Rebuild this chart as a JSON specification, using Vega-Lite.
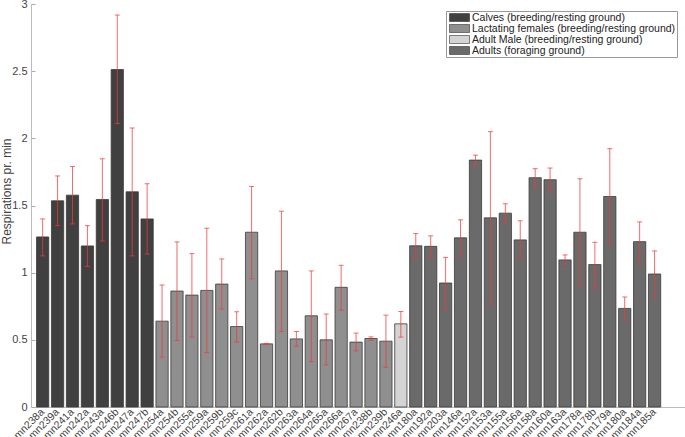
{
  "$schema": "https://vega.github.io/schema/vega-lite/v6.json",
  "width": 654,
  "height": 403,
  "autosize": {"type": "none"},
  "padding": {"left": 31, "top": 4, "right": 0, "bottom": 30},
  "background": "white",
  "config": {
    "view": {"stroke": null},
    "font": "Liberation Sans",
    "axis": {"labelFont": "Liberation Sans", "titleFont": "Liberation Sans", "labelColor": "#444", "titleColor": "#444", "domainColor": "#aaa", "tickColor": "#aaa", "grid": false}
  },
  "data": {"values": [
    {"key": "mn238a", "group": "Calves (breeding/resting ground)", "v": 1.266, "lo": 1.125, "hi": 1.40},
    {"key": "mn239a", "group": "Calves (breeding/resting ground)", "v": 1.535, "lo": 1.35, "hi": 1.72},
    {"key": "mn241a", "group": "Calves (breeding/resting ground)", "v": 1.577, "lo": 1.363, "hi": 1.79},
    {"key": "mn242a", "group": "Calves (breeding/resting ground)", "v": 1.199, "lo": 1.047, "hi": 1.35},
    {"key": "mn243a", "group": "Calves (breeding/resting ground)", "v": 1.545, "lo": 1.236, "hi": 1.848},
    {"key": "mn246b", "group": "Calves (breeding/resting ground)", "v": 2.512, "lo": 2.11, "hi": 2.918},
    {"key": "mn247a", "group": "Calves (breeding/resting ground)", "v": 1.602, "lo": 1.125, "hi": 2.077},
    {"key": "mn247b", "group": "Calves (breeding/resting ground)", "v": 1.40, "lo": 1.139, "hi": 1.662},
    {"key": "mn254a", "group": "Lactating females (breeding/resting ground)", "v": 0.639, "lo": 0.371, "hi": 0.908},
    {"key": "mn254b", "group": "Lactating females (breeding/resting ground)", "v": 0.863, "lo": 0.495, "hi": 1.229},
    {"key": "mn255a", "group": "Lactating females (breeding/resting ground)", "v": 0.833, "lo": 0.52, "hi": 1.142},
    {"key": "mn259a", "group": "Lactating females (breeding/resting ground)", "v": 0.868, "lo": 0.405, "hi": 1.331},
    {"key": "mn259b", "group": "Lactating females (breeding/resting ground)", "v": 0.915, "lo": 0.729, "hi": 1.102},
    {"key": "mn259c", "group": "Lactating females (breeding/resting ground)", "v": 0.599, "lo": 0.483, "hi": 0.709},
    {"key": "mn261a", "group": "Lactating females (breeding/resting ground)", "v": 1.301, "lo": 0.955, "hi": 1.642},
    {"key": "mn262a", "group": "Lactating females (breeding/resting ground)", "v": 0.470, "lo": 0.466, "hi": 0.474},
    {"key": "mn262b", "group": "Lactating females (breeding/resting ground)", "v": 1.013, "lo": 0.562, "hi": 1.457},
    {"key": "mn263a", "group": "Lactating females (breeding/resting ground)", "v": 0.507, "lo": 0.453, "hi": 0.562},
    {"key": "mn264a", "group": "Lactating females (breeding/resting ground)", "v": 0.679, "lo": 0.338, "hi": 1.013},
    {"key": "mn265a", "group": "Lactating females (breeding/resting ground)", "v": 0.50, "lo": 0.313, "hi": 0.692},
    {"key": "mn266a", "group": "Lactating females (breeding/resting ground)", "v": 0.891, "lo": 0.721, "hi": 1.055},
    {"key": "mn267a", "group": "Lactating females (breeding/resting ground)", "v": 0.483, "lo": 0.418, "hi": 0.55},
    {"key": "mn238b", "group": "Lactating females (breeding/resting ground)", "v": 0.51, "lo": 0.498, "hi": 0.522},
    {"key": "mn239b", "group": "Lactating females (breeding/resting ground)", "v": 0.49, "lo": 0.296, "hi": 0.684},
    {"key": "mn246a", "group": "Adult Male (breeding/resting ground)", "v": 0.619, "lo": 0.52, "hi": 0.711},
    {"key": "mn180a#1", "group": "Adults (foraging ground)", "v": 1.20, "lo": 1.11, "hi": 1.291},
    {"key": "mn192a", "group": "Adults (foraging ground)", "v": 1.196, "lo": 1.117, "hi": 1.274},
    {"key": "mn203a", "group": "Adults (foraging ground)", "v": 0.923, "lo": 0.729, "hi": 1.114},
    {"key": "mn146a", "group": "Adults (foraging ground)", "v": 1.259, "lo": 1.125, "hi": 1.393},
    {"key": "mn152a", "group": "Adults (foraging ground)", "v": 1.838, "lo": 1.804, "hi": 1.875},
    {"key": "mn153a", "group": "Adults (foraging ground)", "v": 1.408, "lo": 0.766, "hi": 2.05},
    {"key": "mn155a", "group": "Adults (foraging ground)", "v": 1.443, "lo": 1.371, "hi": 1.513},
    {"key": "mn156a", "group": "Adults (foraging ground)", "v": 1.244, "lo": 1.104, "hi": 1.386},
    {"key": "mn158a", "group": "Adults (foraging ground)", "v": 1.707, "lo": 1.639, "hi": 1.774},
    {"key": "mn160a", "group": "Adults (foraging ground)", "v": 1.692, "lo": 1.602, "hi": 1.779},
    {"key": "mn163a", "group": "Adults (foraging ground)", "v": 1.095, "lo": 1.06, "hi": 1.132},
    {"key": "mn178a", "group": "Adults (foraging ground)", "v": 1.301, "lo": 0.903, "hi": 1.699},
    {"key": "mn178b", "group": "Adults (foraging ground)", "v": 1.06, "lo": 0.886, "hi": 1.226},
    {"key": "mn179a", "group": "Adults (foraging ground)", "v": 1.567, "lo": 1.211, "hi": 1.923},
    {"key": "mn180a#2", "group": "Adults (foraging ground)", "v": 0.734, "lo": 0.647, "hi": 0.819},
    {"key": "mn184a", "group": "Adults (foraging ground)", "v": 1.231, "lo": 1.077, "hi": 1.378},
    {"key": "mn185a", "group": "Adults (foraging ground)", "v": 0.99, "lo": 0.811, "hi": 1.162}
  ]},
  "encoding": {
    "x": {
      "field": "key", "type": "nominal", "sort": null,
      "scale": {"type": "band", "paddingInner": 0.18, "paddingOuter": 1.59, "align": 0.1855},
      "axis": {
        "title": null, "ticks": false, "domainColor": "#bbb", "domainWidth": 1,
        "labelExpr": "split(datum.label, '#')[0]",
        "labelAngle": -45, "labelAlign": "right", "labelBaseline": "middle",
        "labelFontSize": 10.5, "labelPadding": 3, "labelDx": 3
      }
    }
  },
  "layer": [
    {
      "mark": {"type": "bar", "stroke": "#3a3a3a", "strokeWidth": 0.8},
      "encoding": {
        "y": {
          "field": "v", "type": "quantitative",
          "scale": {"domain": [0, 3], "nice": false},
          "axis": {
            "title": "Respirations pr. min", "titleFontSize": 12, "titleFontWeight": "normal",
            "titleX": -18, "titleY": 187, "titleAngle": -90, "titleBaseline": "bottom",
            "values": [0, 0.5, 1, 1.5, 2, 2.5, 3], "format": "~g",
            "labelFontSize": 11, "tickSize": -4, "labelPadding": 8, "domainColor": "#bbb"
          }
        },
        "color": {
          "field": "group", "type": "nominal",
          "scale": {
            "domain": ["Calves (breeding/resting ground)", "Lactating females (breeding/resting ground)", "Adult Male (breeding/resting ground)", "Adults (foraging ground)"],
            "range": ["#404040", "#8f8f8f", "#d4d4d4", "#6a6a6a"]
          },
          "legend": {
            "title": null, "orient": "none", "legendX": 415, "legendY": 7,
            "strokeColor": "#999", "fillColor": "white", "padding": 1,
            "symbolType": "M-2,-0.8h4v1.6h-4z", "symbolSize": 100,
            "symbolStrokeColor": "#333", "symbolStrokeWidth": 0.6, "symbolOpacity": 1,
            "symbolOffset": 7, "labelOffset": 7, "rowPadding": -2,
            "labelFont": "Liberation Sans", "labelFontSize": 10.5, "labelColor": "#222", "labelLimit": 300
          }
        }
      }
    },
    {
      "mark": {"type": "rule", "color": "#ee3b3b", "opacity": 0.75, "strokeWidth": 1},
      "encoding": {"y": {"field": "lo", "type": "quantitative"}, "y2": {"field": "hi"}}
    },
    {
      "mark": {"type": "tick", "color": "#ee3b3b", "opacity": 0.75, "size": 5, "thickness": 1, "orient": "horizontal"},
      "encoding": {"y": {"field": "hi", "type": "quantitative"}}
    },
    {
      "mark": {"type": "tick", "color": "#ee3b3b", "opacity": 0.75, "size": 5, "thickness": 1, "orient": "horizontal"},
      "encoding": {"y": {"field": "lo", "type": "quantitative"}}
    }
  ]
}
